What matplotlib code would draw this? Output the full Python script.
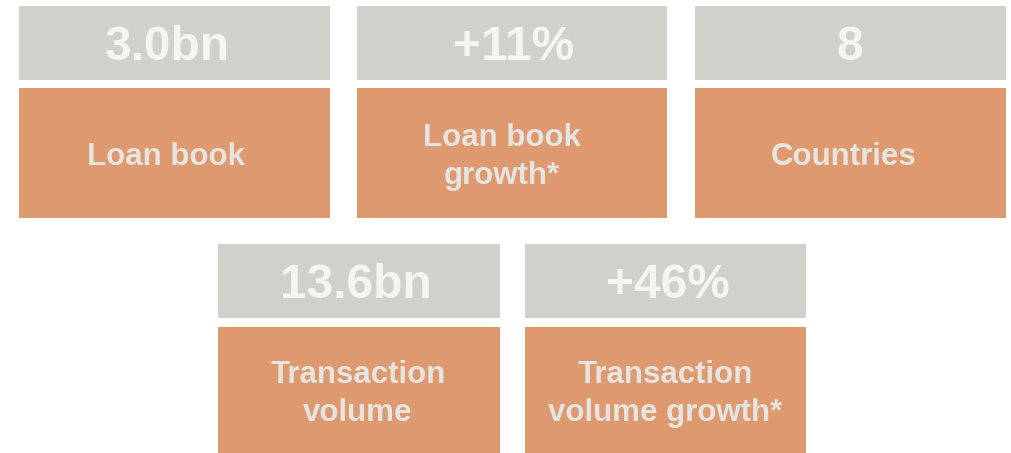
import matplotlib.pyplot as plt
from matplotlib.patches import Rectangle

# === 數值與標籤 === #
values = ["3.0bn", "+11%", "8", "13.6bn", "+46%"]
labels = ["Loan book", "Loan book\ngrowth*", "Countries",
          "Transaction\nvolume", "Transaction\nvolume growth*"]

# === 版面（像素座標）=== #
box_x = [19, 357, 695, 218, 525]
box_w = [311, 310, 311, 282, 281]
grey_y = [6, 6, 6, 244, 244]
grey_h = [74, 74, 74, 74, 74]
orange_y = [88, 88, 88, 327, 327]
orange_h = [130, 130, 130, 126, 126]
value_dx = [-7, 2, -1, -3, 2]
label_dx = [-9, -10, -7, -1, 0]

grey = "#D1D0CB"
orange = "#DE996E"
value_color = "#F5F4EF"
label_color = "#E6E4E1"

plt.rcParams['font.family'] = ['Liberation Sans', 'DejaVu Sans']

fig = plt.figure(figsize=(10.12, 4.53), dpi=100)
ax = fig.add_axes([0, 0, 1, 1])
ax.set_xlim(0, 1012)
ax.set_ylim(453, 0)
ax.axis("off")

for i in range(len(values)):
    ax.add_patch(Rectangle((box_x[i], grey_y[i]), box_w[i], grey_h[i],
                           facecolor=grey, edgecolor="none"))
    ax.add_patch(Rectangle((box_x[i], orange_y[i]), box_w[i], orange_h[i],
                           facecolor=orange, edgecolor="none"))
    cx = box_x[i] + box_w[i] / 2
    ax.text(cx + value_dx[i], grey_y[i] + grey_h[i] / 2 + 4, values[i],
            ha="center", va="center", fontsize=34.5, fontweight="bold",
            color=value_color)
    ax.text(cx + label_dx[i], orange_y[i] + orange_h[i] / 2 + 4, labels[i],
            ha="center", va="center", fontsize=22.5, fontweight="bold",
            color=label_color, linespacing=1.32, multialignment="center")

plt.savefig("out.png", dpi=100)
plt.close()
